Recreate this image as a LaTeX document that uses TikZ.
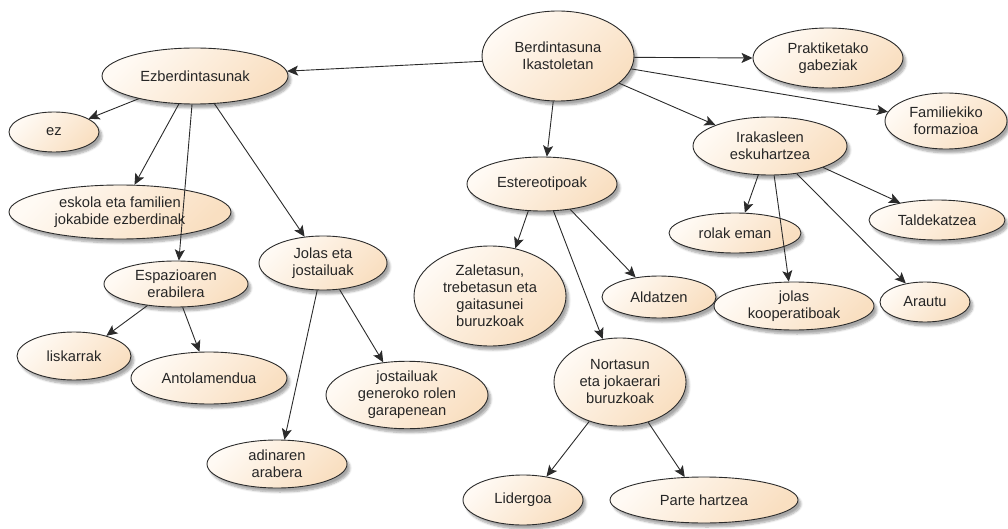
\documentclass[tikz,border=0pt]{standalone}
\usepackage{fontspec}
\setmainfont{Liberation Sans}
\usetikzlibrary{shapes.geometric,arrows.meta,shadows.blur}
\definecolor{fillA}{HTML}{FFFAF4}
\definecolor{fillB}{HTML}{F9DFC1}
\definecolor{edgeC}{HTML}{2B2B2B}
\tikzset{
  bub/.style={ellipse, draw=edgeC, line width=0.9pt, top color=fillA, bottom color=fillB,
    shading angle=45, inner sep=0pt, align=center,
    font=\fontsize{14.7}{17}\selectfont, text=black!85,
    blur shadow={shadow xshift=3pt, shadow yshift=-4pt, shadow blur steps=6, shadow opacity=35}},
  arr/.style={draw=edgeC, line width=0.9pt, -{Stealth[length=11pt,width=10pt,inset=2.5pt]}},
}
\begin{document}
\begin{tikzpicture}[x=1pt,y=-1pt]
\useasboundingbox (0,0) rectangle (1008,529);
% nodes
\node[bub, minimum width=152pt, minimum height=90pt] (B) at (558,56) {Berdintasuna\\Ikastoletan};
\node[bub, minimum width=186pt, minimum height=56pt] (E) at (195,76) {Ezberdintasunak};
\node[bub, minimum width=150pt, minimum height=60pt] (P) at (828,58) {Praktiketako\\gabeziak};
\node[bub, minimum width=122pt, minimum height=56pt] (F) at (946,121) {Familiekiko\\formazioa};
\node[bub, minimum width=154pt, minimum height=58pt] (I) at (770,146) {Irakasleen\\eskuhartzea};
\node[bub, minimum width=150pt, minimum height=54pt] (S) at (542,184) {Estereotipoak};
\node[bub, minimum width=90pt, minimum height=40pt] (ez) at (54,132) {ez};
\node[bub, minimum width=222pt, minimum height=54pt] (esk) at (120,212) {eskola eta familien\\jokabide ezberdinak};
\node[bub, minimum width=144pt, minimum height=46pt] (esp) at (176,284) {Espazioaren\\erabilera};
\node[bub, minimum width=128pt, minimum height=54pt] (jol) at (323,263) {Jolas eta\\jostailuak};
\node[bub, minimum width=114pt, minimum height=48pt] (lis) at (74,356) {liskarrak};
\node[bub, minimum width=156pt, minimum height=52pt] (ant) at (209,378) {Antolamendua};
\node[bub, minimum width=162pt, minimum height=66pt] (jos) at (407,395) {jostailuak\\generoko rolen\\garapenean};
\node[bub, minimum width=140pt, minimum height=48pt] (adi) at (277,464) {adinaren\\arabera};
\node[bub, minimum width=152pt, minimum height=100pt] (zal) at (490,296) {Zaletasun,\\trebetasun eta\\gaitasunei\\buruzkoak};
\node[bub, minimum width=114pt, minimum height=42pt] (ald) at (659,297) {Aldatzen};
\node[bub, minimum width=132pt, minimum height=88pt] (nor) at (620,382) {Nortasun\\eta jokaerari\\buruzkoak};
\node[bub, minimum width=120pt, minimum height=50pt] (lid) at (523,500) {Lidergoa};
\node[bub, minimum width=188pt, minimum height=46pt] (par) at (704,500) {Parte hartzea};
\node[bub, minimum width=132pt, minimum height=40pt] (rol) at (735,233) {rolak eman};
\node[bub, minimum width=160pt, minimum height=48pt] (koo) at (794,306) {jolas\\kooperatiboak};
\node[bub, minimum width=90pt, minimum height=40pt] (ara) at (925,302) {Arautu};
\node[bub, minimum width=136pt, minimum height=40pt] (tal) at (937,220) {Taldekatzea};
% connectors
\draw[arr] (B.184) -- (E.3);
\draw[arr] (B.-1) -- (P.180);
\draw[arr] (B.-10) -- (F.171);
\draw[arr] (B.-24) -- (I.159);
\draw[arr] (B.264) -- (S.80);
\draw[arr] (E.202) -- (ez.21);
\draw[arr] (E.240) -- (esk.62);
\draw[arr] (E.264) -- (esp.83);
\draw[arr] (E.-55) -- (jol.125);
\draw[arr] (esp.217) -- (lis.32);
\draw[arr] (esp.-74) -- (ant.110);
\draw[arr] (jol.258) -- (adi.73);
\draw[arr] (jol.-58) -- (jos.126);
\draw[arr] (S.243) -- (zal.62);
\draw[arr] (S.-67) -- (nor.112);
\draw[arr] (S.-42) -- (ald.140);
\draw[arr] (nor.232) -- (lid.45);
\draw[arr] (nor.-55) -- (par.130);
\draw[arr] (I.248) -- (rol.64);
\draw[arr] (I.-82) -- (koo.102);
\draw[arr] (I.-46) -- (ara.136);
\draw[arr] (I.-22) -- (tal.155);
\end{tikzpicture}
\end{document}
